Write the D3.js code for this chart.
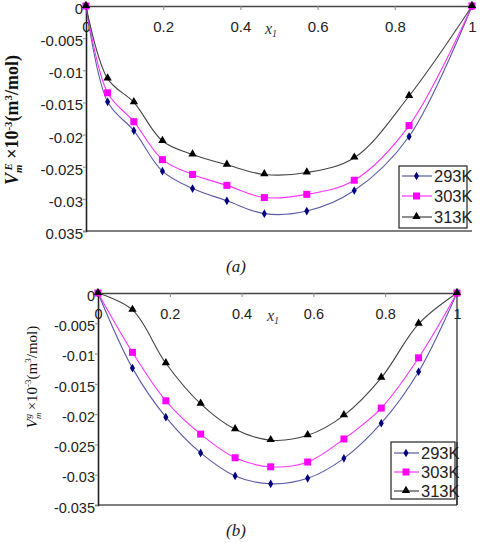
<!DOCTYPE html>
<html><head><meta charset="utf-8">
<script src="https://cdn.jsdelivr.net/npm/d3@7"></script>
<style>body{margin:0;background:#fff}svg{display:block}</style>
</head><body>
<script>
// ---------- data ----------
const seriesNames = ["293K", "303K", "313K"];
const colors = {line: ["#5a5aa8", "#ff33ff", "#444444"], marker: ["#000080", "#ff00ff", "#000000"]};
const xTickValues = [0, 0.2, 0.4, 0.6, 0.8, 1];
const xTickLabels = ["0", "0.2", "0.4", "0.6", "0.8", "1"];
const yTickValues = [0, -0.005, -0.01, -0.015, -0.02, -0.025, -0.03, -0.035];
const yTickLabelsA = ["0", "-0.005", "-0.01", "-0.015", "-0.02", "-0.025", "-0.03", "0.035"];
const yTickLabelsB = ["0", "-0.005", "-0.01", "-0.015", "-0.02", "-0.025", "-0.03", "-0.035"];

// panel (a) excess molar volume
const xA = [0, 0.056, 0.124, 0.198, 0.276, 0.365, 0.462, 0.572, 0.695, 0.837, 1];
const a293 = [0, -0.0149, -0.0194, -0.0257, -0.0284, -0.0303, -0.0323, -0.0319, -0.0287, -0.0203, 0];
const a303 = [0, -0.0135, -0.0180, -0.0239, -0.0262, -0.0279, -0.0298, -0.0293, -0.0271, -0.0186, 0];
const a313 = [0, -0.0113, -0.0150, -0.0210, -0.0231, -0.0247, -0.0262, -0.0259, -0.0236, -0.0140, 0];

// panel (b)
const xB = [0, 0.096, 0.189, 0.286, 0.382, 0.481, 0.584, 0.685, 0.789, 0.893, 1];
const b293 = [0, -0.0124, -0.0205, -0.0264, -0.0302, -0.0315, -0.0306, -0.0273, -0.0215, -0.0130, 0];
const b303 = [0, -0.0098, -0.0178, -0.0233, -0.0272, -0.0287, -0.0279, -0.0241, -0.0190, -0.0107, 0];
const b313 = [0, -0.0028, -0.0116, -0.0183, -0.0225, -0.0243, -0.0235, -0.0202, -0.0140, -0.0051, 0];

// ---------- drawing ----------
const svg = d3.select("body").append("svg").attr("width", 487).attr("height", 543);

function marker(g, type, x, y, color) {
  if (type === 0) g.append("path").attr("d", d3.symbol(d3.symbolDiamond, 22)()).attr("transform", `translate(${x},${y})`).attr("fill", color);
  else if (type === 1) g.append("rect").attr("x", x - 3.5).attr("y", y - 3.5).attr("width", 7).attr("height", 7).attr("fill", color);
  else g.append("path").attr("d", d3.symbol(d3.symbolTriangle, 30)()).attr("transform", `translate(${x},${y - 0.5})`).attr("fill", color);
}

function panel(opt) {
  const g = svg.append("g");
  const x = d3.scaleLinear().domain([0, 1]).range([opt.left, opt.right]);
  const y = d3.scaleLinear().domain([-0.035, 0]).range([opt.bottom, opt.top]);

  // bottom border
  g.append("line").attr("x1", opt.left).attr("x2", opt.right).attr("y1", opt.bottom).attr("y2", opt.bottom)
    .attr("stroke", "#555").attr("stroke-width", 1.3);
  if (opt.rightBorder) g.append("line").attr("x1", opt.right).attr("x2", opt.right).attr("y1", opt.top).attr("y2", opt.bottom)
    .attr("stroke", "#222").attr("stroke-width", 1.2);

  // x axis on top, labels inside
  const xAxis = d3.axisBottom(x).tickValues(xTickValues).tickFormat((d, i) => xTickLabels[i]).tickSize(4).tickPadding(opt.xPad);
  const gx = g.append("g").attr("transform", `translate(0,${opt.top})`).call(xAxis);
  gx.select(".domain").attr("stroke", "#444").attr("stroke-width", 1.6);
  gx.selectAll(".tick line").attr("stroke", "#888");
  gx.selectAll("text").attr("font-family", "Arial, 'Liberation Sans', sans-serif").attr("font-size", opt.fs).attr("fill", "#222");

  // y axis
  const yAxis = d3.axisLeft(y).tickValues(yTickValues).tickFormat((d, i) => opt.yLabels[i]).tickSize(3).tickPadding(0);
  const gy = g.append("g").attr("transform", `translate(${opt.left},0)`).call(yAxis);
  gy.select(".domain").attr("stroke", "#222").attr("stroke-width", 1.6);
  gy.selectAll(".tick line").attr("stroke", "#888");
  gy.selectAll("text").attr("font-family", "Arial, 'Liberation Sans', sans-serif").attr("font-size", opt.fs).attr("fill", "#222")
    .attr("dy", "0.5em");

  // x1 label
  const xl = g.append("text").attr("x", opt.x1x).attr("y", opt.x1y).attr("font-family", "'Liberation Serif', 'Times New Roman', serif")
    .attr("font-style", "italic").attr("font-size", 16).attr("fill", "#333");
  xl.append("tspan").text("x");
  xl.append("tspan").attr("font-size", 10).attr("dy", 3).text("1");

  // y label
  const yl = g.append("text").attr("transform", `translate(${opt.ylx},${opt.yly}) rotate(-90)`).attr("text-anchor", "middle")
    .attr("font-family", "'Liberation Serif', 'Times New Roman', serif").attr("font-size", opt.ylfs)
    .attr("font-weight", opt.ylbold ? "bold" : "normal").attr("fill", "#111");
  yl.append("tspan").attr("font-style", "italic").text("V");
  yl.append("tspan").attr("font-size", opt.ylfs * 0.6).attr("font-style", "italic").attr("dy", 4).text("m");
  yl.append("tspan").attr("font-size", opt.ylfs * 0.6).attr("font-style", "italic").attr("dy", -10).attr("dx", -6).text(opt.sup);
  yl.append("tspan").attr("dy", 6).text(" \u00d710");
  yl.append("tspan").attr("font-size", opt.ylfs * 0.6).attr("dy", -6).text("-3");
  yl.append("tspan").attr("dy", 6).text("(m");
  yl.append("tspan").attr("font-size", opt.ylfs * 0.6).attr("dy", -6).text("3");
  yl.append("tspan").attr("dy", 6).text("/mol)");

  // series
  const line = d3.line().x(d => x(d[0])).y(d => y(d[1])).curve(d3.curveCatmullRom.alpha(0.5));
  opt.series.forEach((vals, si) => {
    const pts = opt.xs.map((xv, i) => [xv, vals[i]]);
    g.append("path").datum(pts).attr("d", line).attr("fill", "none").attr("stroke", colors.line[si]).attr("stroke-width", 1.1);
  });
  opt.series.forEach((vals, si) => {
    opt.xs.forEach((xv, i) => marker(g, si, x(xv), y(vals[i]), colors.marker[si]));
  });

  // legend
  const lg = g.append("g");
  lg.append("rect").attr("x", opt.lg.x0).attr("y", opt.lg.y0).attr("width", opt.lg.x1 - opt.lg.x0).attr("height", opt.lg.y1 - opt.lg.y0)
    .attr("fill", "#fff").attr("stroke", opt.lg.stroke).attr("stroke-width", 1.2);
  seriesNames.forEach((nm, si) => {
    const yy = opt.lg.rows[si];
    lg.append("line").attr("x1", opt.lg.x0 + 3).attr("x2", opt.lg.tx - 2).attr("y1", yy).attr("y2", yy)
      .attr("stroke", colors.line[si]).attr("stroke-width", 1.2);
    marker(lg, si, (opt.lg.x0 + opt.lg.tx) / 2, yy, colors.marker[si]);
    lg.append("text").attr("x", opt.lg.tx).attr("y", yy + 6).attr("font-family", "Arial, 'Liberation Sans', sans-serif")
      .attr("font-size", 16.5).attr("fill", "#222").text(nm);
  });
  if (opt.rightBorder) g.append("line").attr("x1", opt.right).attr("x2", opt.right).attr("y1", opt.lg.y0).attr("y2", opt.bottom)
    .attr("stroke", "#222").attr("stroke-width", 1.2);

  // caption
  g.append("text").attr("x", opt.capx).attr("y", opt.capy).attr("text-anchor", "middle")
    .attr("font-family", "'Liberation Serif', 'Times New Roman', serif").attr("font-style", "italic").attr("font-size", 17)
    .attr("fill", "#222").text(opt.cap);
}

panel({
  left: 86, right: 472, top: 6, bottom: 231, fs: 15, xPad: 11, yLabels: yTickLabelsA,
  xs: xA, series: [a293, a303, a313], rightBorder: false,
  x1x: 265, x1y: 34, ylx: 18, yly: 120, ylfs: 18, ylbold: true, sup: "E",
  lg: {x0: 399, x1: 467, y0: 166, y1: 228, tx: 434, rows: [176, 196, 217], stroke: "#222"},
  cap: "(a)", capx: 236, capy: 272
});

panel({
  left: 98, right: 457, top: 293, bottom: 505, fs: 14.5, xPad: 12, yLabels: yTickLabelsB,
  xs: xB, series: [b293, b303, b313], rightBorder: true,
  x1x: 267, x1y: 321, ylx: 37, yly: 377, ylfs: 15, ylbold: false, sup: "g",
  lg: {x0: 391, x1: 455, y0: 442, y1: 499, tx: 421, rows: [453, 472, 491], stroke: "#222"},
  cap: "(b)", capx: 236, capy: 536
});
</script>
</body></html>
